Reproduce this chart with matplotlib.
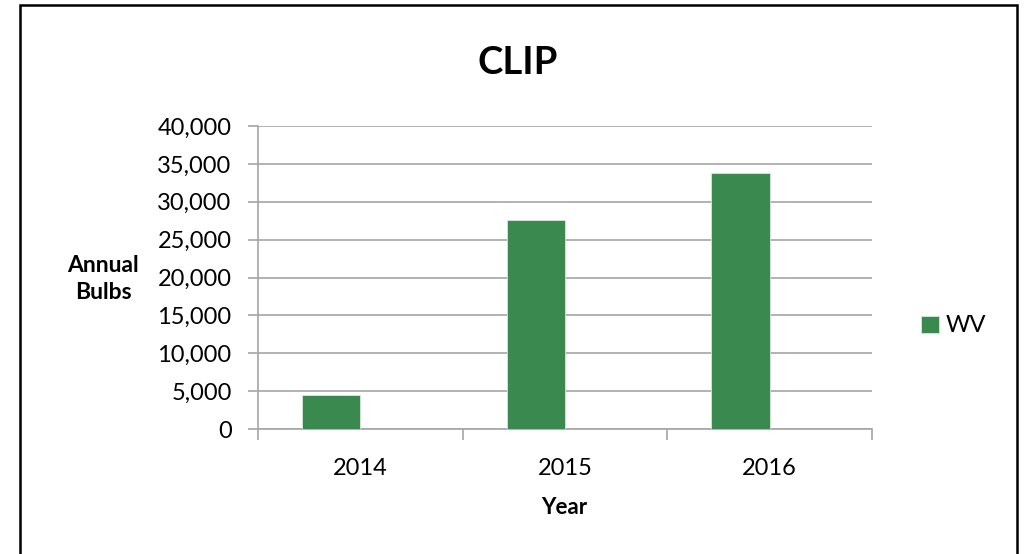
import matplotlib
matplotlib.use("Agg")
import matplotlib.pyplot as plt
from matplotlib.patches import Rectangle
import numpy as np

years = ["2014", "2015", "2016"]
wv = [4450, 27600, 33800]
y_ticks = [0, 5000, 10000, 15000, 20000, 25000, 30000, 35000, 40000]

plt.rcParams["font.family"] = ["Lato", "DejaVu Sans"]

W, H = 1025, 554
fig = plt.figure(figsize=(W / 100, H / 100), dpi=100)

# plot area in pixels: left 258, right 872, top 126, bottom 429
ax = fig.add_axes([258 / W, 1 - 429 / H, 614 / W, 303 / H])

x = np.arange(len(years))
# excel style: two series slots, second empty -> bar sits left of centre
ax.bar(x, wv, width=-0.2857, align="edge", color="#3A8A4F",
       edgecolor="#D8E8DC", linewidth=0.6, label="WV", zorder=3)

ax.set_xlim(-0.5, len(years) - 0.5)
ax.set_ylim(0, 40000)
ax.set_yticks(y_ticks)
ax.set_yticklabels([f"{v:,}" for v in y_ticks], fontsize=17)
ax.yaxis.grid(True, color="#A6A6A6", linewidth=1.2, zorder=0)

ax.set_xticks(x)
ax.set_xticklabels(years, fontsize=17)
ax.set_xticks(np.arange(len(years) + 1) - 0.5, minor=True)
ax.tick_params(axis="x", which="major", length=0, pad=21)
ax.tick_params(axis="x", which="minor", length=8, color="#A6A6A6", width=1.2)
ax.tick_params(axis="y", length=7, color="#A6A6A6", width=1.2, pad=12)

for s in ["top", "right"]:
    ax.spines[s].set_visible(False)
for s in ["left", "bottom"]:
    ax.spines[s].set_color("#A6A6A6")
    ax.spines[s].set_linewidth(1.2)

fig.text(518 / W, 1 - 63 / H, "CLIP", fontsize=27.5, fontweight="bold",
         ha="center", va="center")
fig.text(103 / W, 1 - 279 / H, "Annual\nBulbs", fontsize=16.5,
         fontweight="bold", ha="center", va="center", linespacing=1.4)
fig.text(564 / W, 1 - 507 / H, "Year", fontsize=16, fontweight="bold",
         ha="center", va="center")

fig.legend(loc="center left", bbox_to_anchor=(921 / W, 1 - 326 / H),
           frameon=False, fontsize=17, handlelength=0.75, handleheight=0.75,
           handletextpad=0.3, borderpad=0, borderaxespad=0)

fig.patches.append(Rectangle((20 / W, -0.05), 997 / W, 1.05 - 5 / H,
                             transform=fig.transFigure, fill=False,
                             edgecolor="black", linewidth=1.8))

fig.savefig("out.png", dpi=100)
